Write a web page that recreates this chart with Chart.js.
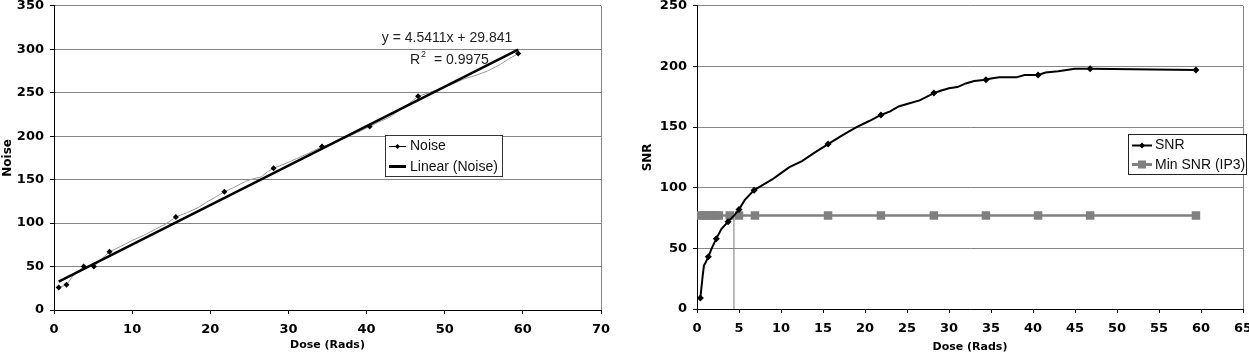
<!DOCTYPE html>
<html><head><meta charset="utf-8">
<script src="https://cdn.jsdelivr.net/npm/chart.js@4.4.0/dist/chart.umd.min.js"></script>
<style>
html,body{margin:0;padding:0;background:#fff;overflow:hidden;width:1249px;height:360px;}
#c1{position:absolute;left:0;top:-8px;}
#c2{position:absolute;left:624px;top:-8px;}
</style></head><body>
<canvas id="c1" width="624" height="368"></canvas>
<canvas id="c2" width="640" height="368"></canvas>
<script>
// ---------- data (left chart: Noise vs Dose) ----------
const noiseDose  = [0.6, 1.6, 3.8, 5.1, 7.1, 15.6, 21.8, 28.1, 34.3, 40.4, 46.6, 59.4];
const noiseValue = [26, 29, 50, 50, 67, 107, 136, 163, 188, 211, 246, 295];
const noiseTraceDose  = [0.6, 1.6, 2.4, 3.8, 5.1, 6.0, 7.1, 8.5, 10, 11.5, 13, 14.3, 15.6, 17, 18.5, 19.5, 20.5, 21.8, 23, 24.5, 25.5, 26.5, 27.3, 28.1, 29.5, 31, 32.5, 34.3, 35.5, 37, 38.5, 40.4, 41.5, 43, 44.5, 45.5, 46.6, 48, 49.5, 51, 52.5, 54, 55.5, 57, 58.2, 59.4];
const noiseTraceValue = [26, 29, 39, 50, 50, 58, 67, 73, 80, 86, 93, 99, 107, 112, 118, 124, 129, 136, 141, 148, 151, 153, 159, 163, 168, 174, 180, 188, 191, 197, 203, 211, 216, 222, 232, 238, 246, 250, 255, 260, 266, 270, 275, 282, 289, 295];
const trendDose  = [0.6, 59.4];
const trendValue = [32.6, 299.6];
const trendEquation = 'y = 4.5411x + 29.841';
const trendR2 = '0.9975';
const leftXTicks = [0, 10, 20, 30, 40, 50, 60, 70];
const leftYTicks = [0, 50, 100, 150, 200, 250, 300, 350];

// ---------- data (right chart: SNR vs Dose) ----------
const snrDose  = [0.4, 1.35, 2.3, 3.7, 5.0, 6.8, 15.6, 21.9, 28.2, 34.4, 40.6, 46.8, 59.4];
const snrValue = [9, 43, 58, 72, 82, 98, 136, 160, 178, 189, 193, 198, 197];
const snrTraceDose  = [0.4, 0.67, 0.83, 1.0, 1.35, 1.75, 2.3, 2.9, 3.7, 4.4, 5.0, 5.7, 6.8, 8, 9, 10, 11, 12.5, 14, 15.6, 17, 18, 19, 20.5, 21.9, 23, 24, 25, 26.5, 28.2, 29, 30, 31, 32, 33, 34.4, 35, 36, 38, 39, 40.6, 41.5, 43, 44, 45, 46.8, 59.4];
const snrTraceValue = [9, 27, 36, 38, 43, 50, 58, 66, 72, 77, 82, 90, 98, 103, 107, 112, 117, 122, 129, 136, 142, 146, 150, 155, 160, 163, 167, 169, 172, 178, 180, 182, 183, 186, 188, 189, 190, 191, 191, 193, 193, 195, 196, 197, 198, 198, 197];
const minSnrDose  = [0.5, 0.8, 1.1, 1.4, 1.7, 2.0, 2.3, 2.6, 3.9, 5.0, 6.9, 15.6, 21.9, 28.2, 34.4, 40.6, 46.8, 59.4];
const minSnrValue = [77, 77, 77, 77, 77, 77, 77, 77, 77, 77, 77, 77, 77, 77, 77, 77, 77, 77];
const crossDose  = [4.4, 4.4];
const crossValue = [0, 77];
const rightXTicks = [0, 5, 10, 15, 20, 25, 30, 35, 40, 45, 50, 55, 60, 65];
const rightYTicks = [0, 50, 100, 150, 200, 250];

// ---------- styling ----------
const GRID = '#858585';
const TICKFONT = {family: '"DejaVu Sans", sans-serif', size: 13, weight: 'bold'};
const TEXTFONT = '"Liberation Sans", Arial, sans-serif';
const DY = 8; // canvas offset above page
const pts = (xs, ys) => xs.map((x, i) => ({x, y: ys[i]}));

function xScale(ticks, titlePadBottom, height) {
  const max = ticks[ticks.length - 1];
  return {
    type: 'linear', position: 'bottom', min: ticks[0], max: max,
    afterBuildTicks: s => { s.ticks = ticks.map(v => ({value: v})); },
    afterFit: s => { s.height = height; },
    ticks: {font: TICKFONT, color: '#000', padding: 8, maxRotation: 0, autoSkip: false},
    grid: {color: c => (c.tick && c.tick.value === max) ? GRID : 'rgba(0,0,0,0)', tickColor: '#000', tickLength: 4, lineWidth: 1},
    border: {color: '#000', width: 1},
    title: {display: true, text: 'Dose (Rads)', color: '#000', font: {family: '"DejaVu Sans", sans-serif', size: 11, weight: 'bold'}, padding: {top: 0, bottom: titlePadBottom}}
  };
}
function yScale(ticks, title, titlePadTop, width) {
  return {
    type: 'linear', position: 'left', min: ticks[0], max: ticks[ticks.length - 1],
    afterBuildTicks: s => { s.ticks = ticks.map(v => ({value: v})); },
    afterFit: s => { s.width = width; },
    ticks: {font: TICKFONT, color: '#000', padding: 6},
    grid: {color: GRID, tickColor: '#000', tickLength: 4, lineWidth: 1},
    border: {color: '#000', width: 1},
    title: {display: true, text: title, color: '#000', font: {family: '"DejaVu Sans", sans-serif', size: 12, weight: 'bold'}, padding: {top: titlePadTop, bottom: 0}}
  };
}
function diamond(ctx, x, y, r, color) {
  ctx.fillStyle = color;
  ctx.beginPath();
  ctx.moveTo(x, y - r); ctx.lineTo(x + r, y); ctx.lineTo(x, y + r); ctx.lineTo(x - r, y);
  ctx.closePath(); ctx.fill();
}

// ---------- left chart decorations: equation + legend ----------
const leftDecor = {
  id: 'leftDecor',
  afterDatasetsDraw(chart) {
    const ctx = chart.ctx;
    ctx.save();
    ctx.fillStyle = '#222';
    ctx.font = '14px ' + TEXTFONT;
    ctx.textBaseline = 'middle';
    ctx.textAlign = 'center';
    ctx.fillText(trendEquation, 447, 38 + DY);
    ctx.textAlign = 'left';
    let x = 410;
    ctx.fillText('R', x, 60 + DY); x += ctx.measureText('R').width + 1;
    ctx.font = '9px ' + TEXTFONT;
    ctx.fillText('2', x, 55 + DY); x += ctx.measureText('2').width;
    ctx.font = '14px ' + TEXTFONT;
    ctx.fillText('  = ' + trendR2, x, 60 + DY);
    // legend
    ctx.fillStyle = '#fff';
    ctx.fillRect(385.5, 135.5 + DY, 117, 41);
    ctx.strokeStyle = '#333'; ctx.lineWidth = 1;
    ctx.strokeRect(385.5, 135.5 + DY, 117, 41);
    ctx.strokeStyle = '#000';
    ctx.beginPath(); ctx.moveTo(389, 146.5 + DY); ctx.lineTo(406, 146.5 + DY); ctx.stroke();
    diamond(ctx, 397.5, 146.5 + DY, 2.5, '#000');
    ctx.lineWidth = 3;
    ctx.beginPath(); ctx.moveTo(389, 166.5 + DY); ctx.lineTo(406, 166.5 + DY); ctx.stroke();
    ctx.fillStyle = '#111';
    ctx.font = '14px ' + TEXTFONT;
    ctx.fillText('Noise', 410, 146.5 + DY);
    ctx.fillText('Linear (Noise)', 410, 167 + DY);
    ctx.restore();
  }
};

// ---------- right chart legend ----------
const rightDecor = {
  id: 'rightDecor',
  afterDatasetsDraw(chart) {
    const ctx = chart.ctx;
    const ox = 1128 - 624;
    ctx.save();
    ctx.fillStyle = '#fff';
    ctx.fillRect(ox + 0.5, 134.5 + DY, 118, 40);
    ctx.strokeStyle = '#222'; ctx.lineWidth = 1;
    ctx.strokeRect(ox + 0.5, 134.5 + DY, 118, 40);
    ctx.strokeStyle = '#000'; ctx.lineWidth = 2;
    ctx.beginPath(); ctx.moveTo(ox + 4, 145.5 + DY); ctx.lineTo(ox + 24, 145.5 + DY); ctx.stroke();
    diamond(ctx, ox + 14, 145.5 + DY, 3, '#000');
    ctx.strokeStyle = '#808080'; ctx.lineWidth = 3;
    ctx.beginPath(); ctx.moveTo(ox + 4, 164.5 + DY); ctx.lineTo(ox + 24, 164.5 + DY); ctx.stroke();
    ctx.fillStyle = '#808080';
    ctx.fillRect(ox + 10, 160.5 + DY, 8, 8);
    ctx.fillStyle = '#111';
    ctx.font = '14px ' + TEXTFONT;
    ctx.textBaseline = 'middle';
    ctx.fillText('SNR', ox + 27, 145.5 + DY);
    ctx.fillText('Min SNR (IP3)', ox + 27, 165 + DY);
    ctx.restore();
  }
};

Chart.defaults.animation = false;

new Chart(document.getElementById('c1'), {
  type: 'scatter',
  data: {datasets: [
    {label: 'Noise', data: pts(noiseTraceDose, noiseTraceValue), showLine: true, borderColor: '#9a9a9a', borderWidth: 1, pointRadius: 0, order: 3},
    {label: 'Linear (Noise)', data: pts(trendDose, trendValue), showLine: true, borderColor: '#000', borderWidth: 2.5, pointRadius: 0, order: 2},
    {label: 'Noise markers', data: pts(noiseDose, noiseValue), showLine: false, pointStyle: 'rectRot', pointRadius: 3, backgroundColor: '#000', borderColor: '#000', borderWidth: 0, order: 1}
  ]},
  options: {
    responsive: false, devicePixelRatio: 1,
    layout: {padding: {top: 13, right: 23, left: 0, bottom: 0}},
    plugins: {legend: {display: false}, tooltip: {enabled: false}},
    scales: {x: xScale(leftXTicks, 8, 50), y: yScale(leftYTicks, 'Noise', 1, 54)}
  },
  plugins: [leftDecor]
});

new Chart(document.getElementById('c2'), {
  type: 'scatter',
  data: {datasets: [
    {label: 'cross', data: pts(crossDose, crossValue), showLine: true, borderColor: '#777', borderWidth: 1, pointRadius: 0, order: 4},
    {label: 'Min SNR (IP3)', data: pts(minSnrDose, minSnrValue), showLine: true, borderColor: '#808080', borderWidth: 2.5, pointStyle: 'rect', pointRadius: 6, backgroundColor: '#808080', pointBorderWidth: 0, order: 3},
    {label: 'SNR', data: pts(snrTraceDose, snrTraceValue), showLine: true, borderColor: '#000', borderWidth: 2, pointRadius: 0, order: 2},
    {label: 'SNR markers', data: pts(snrDose, snrValue), showLine: false, pointStyle: 'rectRot', pointRadius: 3.5, backgroundColor: '#000', borderColor: '#000', borderWidth: 0, order: 1}
  ]},
  options: {
    responsive: false, devicePixelRatio: 1,
    layout: {padding: {top: 13, right: 21, left: 0, bottom: 0}},
    plugins: {legend: {display: false}, tooltip: {enabled: false}},
    scales: {x: xScale(rightXTicks, 6, 51), y: yScale(rightYTicks, 'SNR', 17, 73)}
  },
  plugins: [rightDecor]
});
</script>
</body></html>
